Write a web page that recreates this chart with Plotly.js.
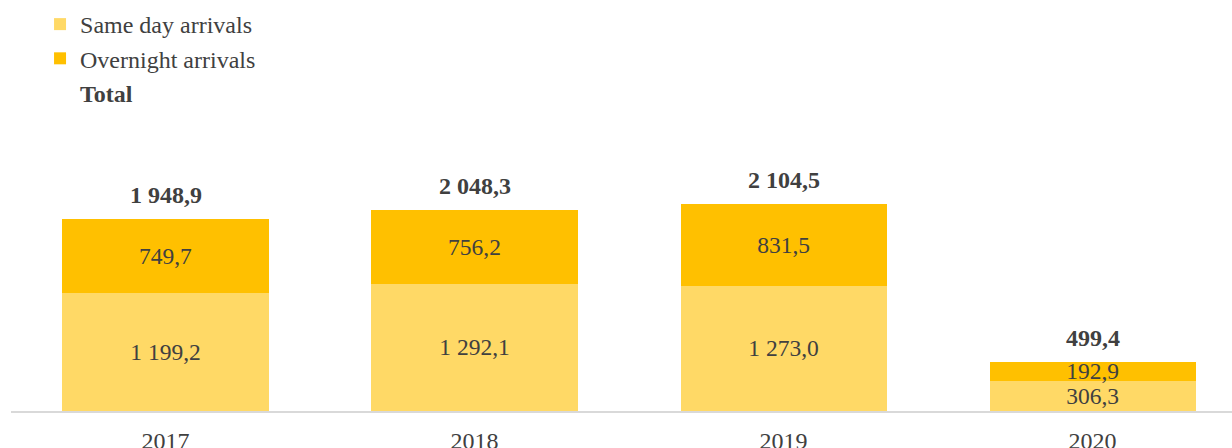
<!DOCTYPE html>
<html>
<head>
<meta charset="utf-8">
<script src="https://cdn.plot.ly/plotly-3.0.1.min.js"></script>
<style>html,body{margin:0;padding:0;background:#fff;}#chart{width:1232px;height:448px;}</style>
</head>
<body>
<div id="chart"></div>
<script>
const years = ['2017', '2018', '2019', '2020'];
const sameDay = [1199.2, 1292.1, 1273.0, 306.3];
const overnight = [749.7, 756.2, 831.5, 192.9];
const totals = [1948.9, 2048.3, 2104.5, 499.4];

const FONT = '"Liberation Serif", "Times New Roman", serif';
const TXT = '#404040';

function fmt(v) {
  const parts = v.toFixed(1).split('.');
  const intPart = parts[0].replace(/\B(?=(\d{3})+(?!\d))/g, ' ');
  return intPart + ',' + parts[1];
}

const barCommon = {
  type: 'bar',
  x: years,
  width: 0.667,
  textposition: 'inside',
  insidetextanchor: 'middle',
  constraintext: 'none',
  texttemplate: '%{y:,.1f}',
  textfont: {family: FONT, size: 23.5, color: TXT},
  hoverinfo: 'skip'
};

const traces = [
  Object.assign({}, barCommon, {name: 'Same day arrivals', y: sameDay, marker: {color: '#FFD966'}}),
  Object.assign({}, barCommon, {name: 'Overnight arrivals', y: overnight, marker: {color: '#FFC000'}}),
  {type: 'scatter', mode: 'lines', name: '<b>Total</b>', x: [null], y: [null],
   line: {color: 'rgba(0,0,0,0)', width: 0}, hoverinfo: 'skip'}
];

const annotations = years.map((yr, i) => ({
  x: i, y: totals[i], xref: 'x', yref: 'y',
  text: '<b>' + fmt(totals[i]) + '</b>',
  showarrow: false, yanchor: 'middle', yshift: 24,
  font: {family: FONT, size: 24, color: TXT}
}));

const layout = {
  width: 1232, height: 448,
  margin: {l: 11, r: 0, t: 100, b: 37, autoexpand: false},
  paper_bgcolor: '#fff', plot_bgcolor: '#fff',
  barmode: 'stack',
  separators: ', ',
  font: {family: FONT, size: 24, color: TXT},
  showlegend: true,
  legend: {
    x: 0.0325, xref: 'container', xanchor: 'left',
    y: 0.9955, yref: 'container', yanchor: 'top',
    orientation: 'v',
    traceorder: 'normal',
    font: {family: FONT, size: 24, color: TXT},
    bgcolor: 'rgba(0,0,0,0)', borderwidth: 0
  },
  xaxis: {
    type: 'category',
    range: [-0.5, 3.451],
    showline: true, linecolor: '#D9D9D9', linewidth: 2,
    ticks: '', showgrid: false, zeroline: false,
    ticklabelstandoff: 7,
    tickfont: {family: FONT, size: 24, color: TXT},
    fixedrange: true
  },
  yaxis: {
    range: [0, 3162],
    visible: false, showgrid: false, zeroline: false, fixedrange: true
  },
  annotations: annotations
};

Plotly.newPlot('chart', traces, layout, {displayModeBar: false, staticPlot: true});
</script>
</body>
</html>
